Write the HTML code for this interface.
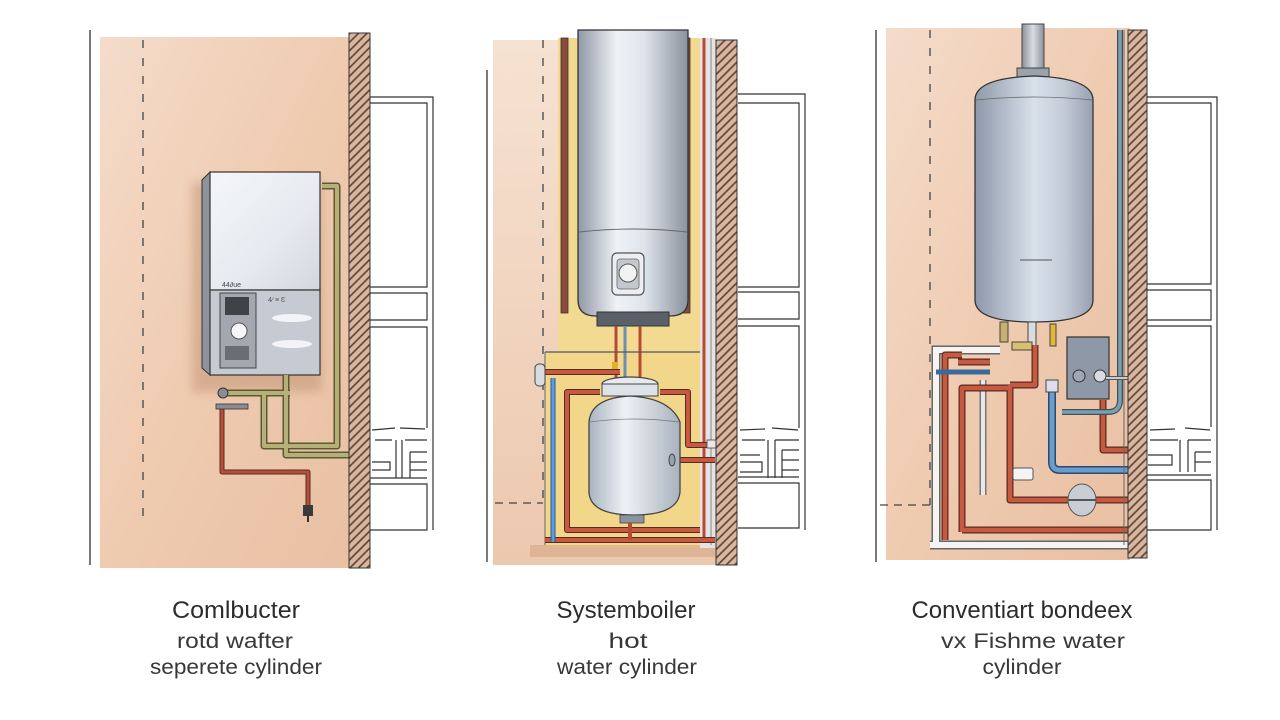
<!DOCTYPE html>
<html><head><meta charset="utf-8"><style>
html,body{margin:0;padding:0;background:#fff;}
svg{display:block;}
text{font-family:"Liberation Sans","DejaVu Sans",sans-serif;}
</style></head><body>
<svg width="1280" height="720" viewBox="0 0 1280 720" xmlns="http://www.w3.org/2000/svg">
<defs>
<pattern id="hatch" width="6" height="6" patternUnits="userSpaceOnUse" patternTransform="rotate(45)">
<rect width="6" height="6" fill="#d8b6a0"/>
<line x1="1" y1="0" x2="1" y2="6" stroke="#5a4032" stroke-width="1.6"/>
</pattern>
<linearGradient id="peach" x1="0" y1="0" x2="1" y2="1">
<stop offset="0" stop-color="#f4dccb"/><stop offset="0.5" stop-color="#efcbb0"/><stop offset="1" stop-color="#e9c0a4"/>
</linearGradient>
<linearGradient id="peach2" x1="0" y1="0" x2="0" y2="1">
<stop offset="0" stop-color="#f6e2d2"/><stop offset="1" stop-color="#ecc8ae"/>
</linearGradient>
<linearGradient id="metalH" x1="0" y1="0" x2="1" y2="0">
<stop offset="0" stop-color="#8f98a4"/><stop offset="0.35" stop-color="#eef2f6"/><stop offset="0.6" stop-color="#dfe5ec"/><stop offset="1" stop-color="#8a929e"/>
</linearGradient>
<linearGradient id="metal3" x1="0" y1="0" x2="1" y2="0">
<stop offset="0" stop-color="#8e98aa"/><stop offset="0.5" stop-color="#d8e0ea"/><stop offset="0.75" stop-color="#c4ccd8"/><stop offset="1" stop-color="#98a0b0"/>
</linearGradient>
<linearGradient id="vessel" x1="0" y1="0" x2="1" y2="0">
<stop offset="0" stop-color="#aab4c0"/><stop offset="0.4" stop-color="#eef2f6"/><stop offset="1" stop-color="#a8b2be"/>
</linearGradient>
<linearGradient id="boilerTop" x1="0" y1="0" x2="1" y2="1">
<stop offset="0" stop-color="#f4f6f9"/><stop offset="0.6" stop-color="#e6e9ef"/><stop offset="1" stop-color="#d2d7df"/>
</linearGradient>
<linearGradient id="flue" x1="0" y1="0" x2="1" y2="0">
<stop offset="0" stop-color="#8a929c"/><stop offset="0.5" stop-color="#d8dde2"/><stop offset="1" stop-color="#8a929c"/>
</linearGradient>
<filter id="blur"><feGaussianBlur stdDeviation="5"/></filter>
</defs>

<!-- ================= PANEL 1 ================= -->
<rect x="100" y="37" width="250" height="531" fill="url(#peach)"/>
<line x1="90" y1="30" x2="90" y2="565" stroke="#333" stroke-width="1.3"/>
<line x1="143" y1="40" x2="143" y2="520" stroke="#444" stroke-width="1.3" stroke-dasharray="8 10"/>
<!-- shadow -->
<rect x="192" y="182" width="130" height="210" fill="#b98a6c" opacity="0.45" filter="url(#blur)"/>
<!-- boiler -->
<polygon points="202,180 210,172 210,375 202,368" fill="#8f949c" stroke="#333" stroke-width="1"/>
<rect x="210" y="172" width="110" height="118" fill="url(#boilerTop)" stroke="#333" stroke-width="1.2"/>
<rect x="210" y="290" width="110" height="85" fill="#c6cbd3" stroke="#333" stroke-width="1.2"/>
<text x="222" y="287" font-size="7" fill="#444">44∂ue</text>
<rect x="220" y="293" width="36" height="75" fill="#a3a8b0" stroke="#444" stroke-width="1"/>
<rect x="225" y="297" width="24" height="18" fill="#3f4348"/>
<circle cx="239" cy="331" r="8" fill="#f4f6f8" stroke="#555" stroke-width="1"/>
<rect x="225" y="346" width="24" height="14" fill="#6a6e74"/>
<ellipse cx="292" cy="318" rx="20" ry="4" fill="#f2f4f7"/>
<ellipse cx="292" cy="344" rx="20" ry="4" fill="#f2f4f7"/>
<text x="268" y="302" font-size="7" fill="#555">4⁄ ≡ Ɛ</text>
<!-- olive pipes -->
<g fill="none" stroke-linejoin="round">
<path d="M322,186 L337,186 L337,446 L264,446 L264,393 M223,393 L290,393 M286,375 L286,455 L350,455" stroke="#5c5a32" stroke-width="7"/>
<path d="M322,186 L337,186 L337,446 L264,446 L264,393 M223,393 L290,393 M286,375 L286,455 L350,455" stroke="#b4b077" stroke-width="4"/>
<path d="M222,407 L222,472 L308,472 L308,505" stroke="#5a2a20" stroke-width="5"/>
<path d="M222,407 L222,472 L308,472 L308,505" stroke="#b6503c" stroke-width="3"/>
</g>
<circle cx="223" cy="393" r="5" fill="#8a8e94" stroke="#333"/>
<rect x="216" y="404" width="32" height="5" fill="#8a8e94" stroke="#333" stroke-width="0.8"/>
<rect x="303" y="505" width="10" height="11" fill="#3a3a3a"/>
<line x1="308" y1="516" x2="308" y2="522" stroke="#333" stroke-width="2"/>
<!-- wall -->
<rect x="349" y="33" width="21" height="535" fill="url(#hatch)" stroke="#333" stroke-width="1"/>
<!-- building -->
<g fill="none" stroke="#333" stroke-width="1.2">
<path d="M370,97 L433,97 L433,530"/>
<path d="M370,103 L427,103 L427,287 L370,287"/>
<path d="M370,293 L427,293 L427,320 L370,320"/>
<path d="M370,327 L427,327 L427,428"/>
<path d="M372,430 L395,428 M400,428 L425,429 M375,440 L392,440 M405,440 L427,440"/>
<path d="M396,440 L396,478 M402,440 L402,478 M372,462 L390,462 L390,470 L372,470 M410,452 L427,452 M410,462 L427,462 M410,470 L427,470 M410,452 L410,478"/>
<path d="M370,478 L427,478 M370,484 L427,484 L427,530 L370,530"/>
</g>

<!-- ================= PANEL 2 ================= -->
<rect x="493" y="40" width="225" height="525" fill="url(#peach2)"/>
<line x1="487" y1="70" x2="487" y2="562" stroke="#333" stroke-width="1.3"/>
<line x1="543" y1="40" x2="543" y2="505" stroke="#444" stroke-width="1.3" stroke-dasharray="8 10"/>
<line x1="495" y1="503" x2="543" y2="503" stroke="#444" stroke-width="1.3" stroke-dasharray="8 6"/>
<!-- yellow -->
<rect x="558" y="38" width="158" height="315" fill="#f2da92"/>
<rect x="545" y="352" width="168" height="195" fill="#f2d68a"/>
<rect x="530" y="545" width="185" height="12" fill="#d9ab8c" opacity="0.7"/>
<rect x="561" y="38" width="7" height="275" fill="#8a4a3a" stroke="#333" stroke-width="0.8"/>
<rect x="683" y="38" width="7" height="275" fill="#8a4a3a" stroke="#333" stroke-width="0.8"/>
<rect x="700" y="38" width="16" height="510" fill="#e4e2e2"/>
<line x1="704" y1="38" x2="704" y2="540" stroke="#b84a34" stroke-width="3"/>
<line x1="711" y1="38" x2="711" y2="545" stroke="#888" stroke-width="1"/>
<!-- cylinder -->
<path d="M578,30 L688,30 L688,300 Q688,316 670,316 L596,316 Q578,316 578,300 Z" fill="url(#metalH)" stroke="#333" stroke-width="1.3"/>
<path d="M579,232 Q633,226 687,232" fill="none" stroke="#666" stroke-width="1"/>
<rect x="597" y="312" width="72" height="14" fill="#5a6068" stroke="#333" stroke-width="1"/>
<rect x="612" y="253" width="32" height="42" rx="5" fill="#eceef2" stroke="#555" stroke-width="1.2"/>
<rect x="617" y="259" width="22" height="30" rx="3" fill="#c4c8ce" stroke="#666" stroke-width="0.8"/>
<circle cx="628" cy="273" r="9" fill="#f2f2f2" stroke="#555" stroke-width="1"/>
<!-- pipes under cylinder -->
<g stroke-linecap="butt">
<line x1="616" y1="326" x2="616" y2="385" stroke="#b84a34" stroke-width="3"/>
<line x1="625" y1="326" x2="625" y2="385" stroke="#6a8fb0" stroke-width="3"/>
<line x1="640" y1="326" x2="640" y2="385" stroke="#b84a34" stroke-width="3"/>
</g>
<rect x="612" y="362" width="6" height="10" fill="#e0b030"/>
<line x1="545" y1="352" x2="700" y2="352" stroke="#555" stroke-width="1.2"/>
<line x1="545" y1="352" x2="545" y2="545" stroke="#666" stroke-width="1"/>
<!-- red and blue pipes -->
<g fill="none" stroke-linejoin="round">
<path d="M540,372 L620,372 M600,392 L567,392 L567,530 L700,530 M660,392 L688,392 L688,445 L715,445 M673,460 L715,460 M545,540 L715,540" stroke="#5a2a20" stroke-width="6"/>
<path d="M540,372 L620,372 M600,392 L567,392 L567,530 L700,530 M660,392 L688,392 L688,445 L715,445 M673,460 L715,460 M545,540 L715,540" stroke="#c65a40" stroke-width="4"/>
<path d="M553,378 L553,542" stroke="#2c5a90" stroke-width="5"/>
<path d="M553,378 L553,542" stroke="#5a9ee0" stroke-width="3"/>
</g>
<rect x="535" y="364" width="10" height="22" rx="4" fill="#d8dce0" stroke="#444"/>
<rect x="707" y="440" width="12" height="8" fill="#e8e8e8" stroke="#444" stroke-width="0.8"/>
<!-- vessel -->
<ellipse cx="630" cy="384" rx="28" ry="7" fill="#e6eaee" stroke="#444" stroke-width="1.2"/>
<rect x="602" y="384" width="56" height="12" fill="#dde2e8" stroke="#444" stroke-width="1"/>
<path d="M589,422 Q591,398 630,396 Q670,398 680,422 L680,492 Q678,515 634,515 Q590,515 589,492 Z" fill="url(#vessel)" stroke="#444" stroke-width="1.3"/>
<path d="M590,422 Q634,416 679,422" fill="none" stroke="#777" stroke-width="0.8"/>
<ellipse cx="672" cy="460" rx="3" ry="6" fill="#9aa2ac" stroke="#444"/>
<rect x="620" y="515" width="24" height="8" fill="#8a949e" stroke="#444" stroke-width="0.8"/>
<line x1="630" y1="523" x2="630" y2="540" stroke="#b84a34" stroke-width="4"/>
<!-- wall -->
<rect x="716" y="40" width="21" height="525" fill="url(#hatch)" stroke="#333" stroke-width="1"/>
<!-- building -->
<g fill="none" stroke="#333" stroke-width="1.2">
<path d="M738,94 L805,94 L805,530"/>
<path d="M738,103 L799,103 L799,287 L738,287"/>
<path d="M738,292 L799,292 L799,319 L738,319"/>
<path d="M738,326 L799,326 L799,428"/>
<path d="M740,430 L765,429 M772,428 L798,430 M742,440 L765,440 M775,440 L799,440"/>
<path d="M768,440 L768,478 M775,440 L775,478 M740,455 L760,455 M740,462 L762,462 L762,472 L740,472 M782,450 L799,450 M782,460 L799,460 M782,470 L799,470 M782,450 L782,478"/>
<path d="M738,477 L799,477 M738,483 L799,483 L799,528 L738,528"/>
</g>

<!-- ================= PANEL 3 ================= -->
<rect x="886" y="28" width="244" height="532" fill="url(#peach)"/>
<line x1="876" y1="30" x2="876" y2="562" stroke="#333" stroke-width="1.3"/>
<line x1="930" y1="30" x2="930" y2="505" stroke="#444" stroke-width="1.3" stroke-dasharray="8 10"/>
<line x1="880" y1="505" x2="930" y2="505" stroke="#444" stroke-width="1.3" stroke-dasharray="8 6"/>
<!-- flue -->
<rect x="1022" y="24" width="22" height="46" fill="url(#flue)" stroke="#444" stroke-width="1"/>
<rect x="1017" y="68" width="32" height="9" fill="#9aa2ac" stroke="#444" stroke-width="1"/>
<!-- cylinder -->
<path d="M975,100 Q975,78 1034,76 Q1093,78 1093,100 L1093,300 Q1093,322 1034,322 Q975,322 975,300 Z" fill="url(#metal3)" stroke="#333" stroke-width="1.3"/>
<path d="M976,100 Q1034,94 1092,100" fill="none" stroke="#666" stroke-width="0.8"/>
<line x1="1020" y1="260" x2="1052" y2="260" stroke="#555" stroke-width="1"/>
<!-- fittings -->
<g stroke="#444" stroke-width="1">
<rect x="1000" y="322" width="8" height="20" fill="#c8b070"/>
<rect x="1028" y="322" width="8" height="28" fill="#d8dce0"/>
<rect x="1050" y="324" width="6" height="22" fill="#e0b838"/>
<rect x="1012" y="342" width="20" height="8" fill="#d8c070"/>
</g>
<!-- white L pipe -->
<g fill="none">
<path d="M936,545 L936,350 L1000,350 M930,545 L1128,545" stroke="#666" stroke-width="9"/>
<path d="M936,545 L936,350 L1000,350 M930,545 L1128,545" stroke="#f4f4f2" stroke-width="6"/>
<path d="M983,380 L983,495" stroke="#777" stroke-width="7"/>
<path d="M983,380 L983,495" stroke="#e8e8ea" stroke-width="4"/>
</g>
<!-- red pipes -->
<g fill="none" stroke-linejoin="round">
<path d="M945,540 L945,355 L962,355 M962,532 L962,388 L1010,388 M962,530 L1128,530 M1010,385 L1010,500 L1128,500 M1010,385 L1035,385 L1035,345 M1103,400 L1103,450 L1128,450 M958,362 L990,362" stroke="#5a2a20" stroke-width="7"/>
<path d="M945,540 L945,355 L962,355 M962,532 L962,388 L1010,388 M962,530 L1128,530 M1010,385 L1010,500 L1128,500 M1010,385 L1035,385 L1035,345 M1103,400 L1103,450 L1128,450 M958,362 L990,362" stroke="#c65a40" stroke-width="4.5"/>
<path d="M1052,385 L1052,462 Q1052,470 1060,470 L1128,470" stroke="#2c4a70" stroke-width="8"/>
<path d="M1052,385 L1052,462 Q1052,470 1060,470 L1128,470" stroke="#6a9ccc" stroke-width="5"/>
<path d="M1120,30 L1120,400 Q1120,412 1108,412 L1062,412" stroke="#3a5060" stroke-width="6"/>
<path d="M1120,30 L1120,400 Q1120,412 1108,412 L1062,412" stroke="#7aa0b0" stroke-width="3.5"/>
<path d="M936,372 L990,372" stroke="#3a6a9a" stroke-width="5"/>
</g>
<line x1="1124" y1="30" x2="1124" y2="545" stroke="#666" stroke-width="1"/>
<!-- control box -->
<rect x="1067" y="337" width="42" height="62" fill="#8e98a6" stroke="#333" stroke-width="1.2"/>
<circle cx="1079" cy="376" r="6" fill="#a0a8b4" stroke="#333"/>
<circle cx="1100" cy="376" r="6" fill="#d8dce0" stroke="#333"/>
<line x1="1106" y1="378" x2="1130" y2="378" stroke="#555" stroke-width="4"/>
<line x1="1106" y1="378" x2="1130" y2="378" stroke="#ccc" stroke-width="2"/>
<rect x="1046" y="380" width="12" height="12" fill="#dde" stroke="#444"/>
<!-- misc -->
<rect x="1013" y="468" width="20" height="12" rx="2" fill="#f4f4f4" stroke="#555"/>
<ellipse cx="1082" cy="500" rx="14" ry="16" fill="#c8ced4" stroke="#555" stroke-width="1"/>
<line x1="1068" y1="500" x2="1096" y2="500" stroke="#555" stroke-width="2"/>
<!-- wall -->
<rect x="1128" y="30" width="19" height="528" fill="url(#hatch)" stroke="#333" stroke-width="1"/>
<!-- building -->
<g fill="none" stroke="#333" stroke-width="1.2">
<path d="M1147,97 L1217,97 L1217,530"/>
<path d="M1147,103 L1211,103 L1211,284 L1147,284"/>
<path d="M1147,290 L1211,290 L1211,320 L1147,320"/>
<path d="M1147,326 L1211,326 L1211,427"/>
<path d="M1150,430 L1175,429 M1185,428 L1210,430 M1150,440 L1178,440 M1188,440 L1211,440"/>
<path d="M1180,440 L1180,472 M1188,440 L1188,472 M1148,455 L1172,455 L1172,465 L1148,465 M1195,452 L1211,452 M1195,462 L1211,462 M1195,452 L1195,472"/>
<path d="M1147,475 L1211,475 M1147,480 L1211,480 L1211,530 L1147,530"/>
</g>

<!-- ================= LABELS ================= -->
<g text-anchor="middle" fill="#2c2c2c">
<text x="236" y="618" font-size="24" textLength="128" lengthAdjust="spacingAndGlyphs">Comlbucter</text>
<text x="235" y="648" font-size="21" fill="#383838" textLength="116" lengthAdjust="spacingAndGlyphs">rotd wafter</text>
<text x="236" y="674" font-size="21" fill="#383838" textLength="172" lengthAdjust="spacingAndGlyphs">seperete cylinder</text>

<text x="626" y="618" font-size="24" textLength="139" lengthAdjust="spacingAndGlyphs">Systemboiler</text>
<text x="628" y="648" font-size="21" fill="#383838" textLength="39" lengthAdjust="spacingAndGlyphs">hot</text>
<text x="627" y="674" font-size="21" fill="#383838" textLength="140" lengthAdjust="spacingAndGlyphs">water cylinder</text>

<text x="1022" y="618" font-size="24" textLength="221" lengthAdjust="spacingAndGlyphs">Conventiart bondeex</text>
<text x="1033" y="648" font-size="21" fill="#383838" textLength="184" lengthAdjust="spacingAndGlyphs">vx Fishme water</text>
<text x="1022" y="674" font-size="21" fill="#383838" textLength="79" lengthAdjust="spacingAndGlyphs">cylinder</text>
</g>
</svg>
</body></html>
